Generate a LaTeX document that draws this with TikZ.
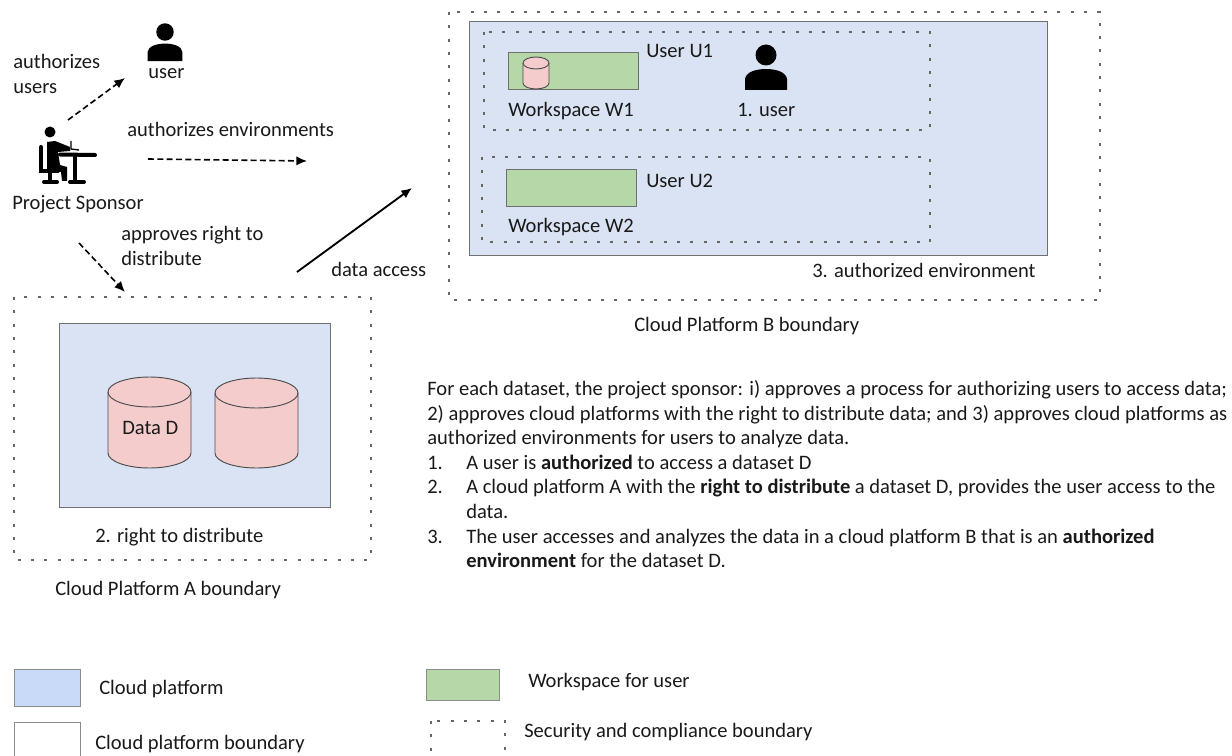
\documentclass[tikz,border=0pt]{standalone}
\usepackage{fontspec}
\setmainfont{Carlito}
\usepackage{tikz}
\usepackage{xcolor}
\usetikzlibrary{arrows.meta}
\definecolor{platformblue}{HTML}{DAE3F3}
\definecolor{legendblue}{HTML}{C9DAF8}
\definecolor{wsgreen}{HTML}{B6D7A8}
\definecolor{dbpink}{HTML}{F4CCCC}
\definecolor{edgegrey}{HTML}{707070}
\definecolor{dotgrey}{HTML}{666666}
\tikzset{
  txt/.style={anchor=base west,inner sep=0pt,yshift=-1.2pt,font=\fontsize{15.4pt}{18pt}\selectfont,text=black!90},
  cloudbox/.style={draw=edgegrey,line width=0.7pt,fill=platformblue},
  wsbox/.style={draw=edgegrey,line width=0.7pt,fill=wsgreen},
  legbox/.style={draw=edgegrey!80,line width=0.7pt},
  secbox/.style={draw=dotgrey,line width=2.2pt,dash pattern=on 2.2pt off 7.8pt},
  authline/.style={-{Latex[length=8pt,width=7pt]},line width=1.2pt,dash pattern=on 4.5pt off 2.5pt},
  accline/.style={-{Latex[length=8pt,width=7pt]},line width=1.4pt},
  dbcan/.style={draw=black!70,line width=0.7pt,fill=dbpink},
  deskpart/.style={line width=3pt,line cap=round}
}
% left, right, top, bottom, half height of the lid
\newcommand{\datacan}[5]{
  \pgfmathsetmacro{\cxx}{(#1+#2)/2}
  \pgfmathsetmacro{\kxx}{0.55*(#2-#1)/2}
  \draw[dbcan] (#1,#3+#5) -- (#1,#4-#5)
    .. controls (#1,{#4-0.45*#5}) and (\cxx-\kxx,#4) .. (\cxx,#4)
    .. controls (\cxx+\kxx,#4) and (#2,{#4-0.45*#5}) .. (#2,#4-#5)
    -- (#2,#3+#5)
    .. controls (#2,{#3+0.45*#5}) and (\cxx+\kxx,#3) .. (\cxx,#3)
    .. controls (\cxx-\kxx,#3) and (#1,{#3+0.45*#5}) .. (#1,#3+#5) -- cycle;
  \draw[dbcan,fill=none] (#1,#3+#5)
    .. controls (#1,{#3+1.55*#5}) and (\cxx-\kxx,#3+2*#5) .. (\cxx,#3+2*#5)
    .. controls (\cxx+\kxx,#3+2*#5) and (#2,{#3+1.55*#5}) .. (#2,#3+#5);
}
% head centre x, y, unit
\newcommand{\usericon}[3]{
  \fill (#1,#2) circle[radius=#3*10.5];
  \fill ({#1-#3*21},{#2+#3*35}) -- ({#1-#3*21},{#2+#3*24})
    .. controls ({#1-#3*20},{#2+#3*17}) and ({#1-#3*10},{#2+#3*14}) .. (#1,{#2+#3*14})
    .. controls ({#1+#3*10},{#2+#3*14}) and ({#1+#3*20},{#2+#3*17}) .. ({#1+#3*21},{#2+#3*24})
    -- ({#1+#3*21},{#2+#3*35}) -- cycle;
}
\begin{document}
\begin{tikzpicture}[x=0.75pt,y=-0.75pt]
  \useasboundingbox (0,0) rectangle (1232,756);
  % cloud platform B
  \draw[secbox] (449,12) rectangle (1100,300);
  \draw[cloudbox] (469,21) rectangle (1047,255);
  \draw[secbox] (484,32) rectangle (930,130);
  \draw[secbox] (482,157) rectangle (930,242);
  \draw[wsbox] (508,52) rectangle (638,89);
  \draw[wsbox] (506,169) rectangle (636,206);
  \datacan{523}{549}{57}{89}{6}
  \node[txt] (uone) at (646,56) {User U1};
  \node[txt] (utwo) at (646,186) {User U2};
  \node[txt] (wone) at (508,115) {Workspace W1};
  \node[txt] (wtwo) at (508,231) {Workspace W2};
  \usericon{766}{55}{1}
  \node[txt] (uicon) at (737,115) {1. user};
  \node[txt] (authenv) at (812,276) {3. authorized environment};
  \node[txt] (bbound) at (634,330) {Cloud Platform B boundary};
  % cloud platform A
  \draw[secbox] (14,297) rectangle (371,560);
  \draw[cloudbox] (59,323) rectangle (330,507);
  \datacan{108}{191}{377}{468}{15}
  \datacan{215}{298}{378}{468}{15}
  \node[txt] (datad) at (122,433) {Data D};
  \node[txt] (rightd) at (95,541) {2. right to distribute};
  \node[txt] (abound) at (55,594) {Cloud Platform A boundary};
  % sponsor
  \usericon{165}{32}{0.83}
  \node[txt] (user) at (148,77) {user};
  \node[txt] (authu) at (13,67) {authorizes};
  \node[txt] (authv) at (13,92) {users};
  \node[txt] (authe) at (127,135) {authorizes environments};
  \node[txt] (spons) at (12,208) {Project Sponsor};
  \node[txt] (appr) at (121,239) {approves right to};
  \node[txt] (apprb) at (121,264) {distribute};
  \node[txt] (dacc) at (331,275) {data access};
  % desk figure
  \fill (50,132) circle[radius=5.5];
  \fill (47,142) -- (55,141) -- (70,147) -- (70,151) -- (58,152) -- (60,165) -- (67,167)
    -- (67,181) -- (62,181) -- (61,172) -- (47,170) -- cycle;
  \draw[deskpart] (41,147) -- (41,171) -- (58,171);
  \draw[deskpart] (50,171) -- (50,181);
  \draw[deskpart] (44,182) -- (57,182);
  \draw[deskpart] (60,154.5) -- (95,155);
  \draw[deskpart] (75,155) -- (75,181);
  \draw[deskpart] (70,182) -- (84,182);
  \draw[line width=1pt] (71,141) -- (71,149) -- (79,150);
  % connectors
  \coordinate (aua) at (68,120); \coordinate (aub) at (125,78);
  \coordinate (aea) at (148,159); \coordinate (aeb) at (307,161);
  \coordinate (apa) at (79,243); \coordinate (apb) at (125,292);
  \coordinate (daa) at (297,272); \coordinate (dab) at (412,188);
  \draw[authline] (aua) -- (aub);
  \draw[authline] (aea) -- (aeb);
  \draw[authline] (apa) -- (apb);
  \draw[accline] (daa) -- (dab);
  % text block
  \node[txt] (para) at (427,394) {For each dataset, the project sponsor: i) approves a process for authorizing users to access data;};
  \node[txt] (parb) at (427,419) {2) approves cloud platforms with the right to distribute data; and 3) approves cloud platforms as};
  \node[txt] (parc) at (427,443) {authorized environments for users to analyze data.};
  \node[txt] (numa) at (427,468) {1.};
  \node[txt] (lia) at (466,468) {A user is \textbf{authorized} to access a dataset D};
  \node[txt] (numb) at (427,492) {2.};
  \node[txt] (lib) at (466,492) {A cloud platform A with the \textbf{right to distribute} a dataset D, provides the user access to the};
  \node[txt] (libb) at (466,517) {data.};
  \node[txt] (numc) at (427,542) {3.};
  \node[txt] (lic) at (466,542) {The user accesses and analyzes the data in a cloud platform B that is an \textbf{authorized}};
  \node[txt] (licb) at (466,566) {\textbf{environment} for the dataset D.};
  % legend
  \draw[legbox,fill=legendblue] (14,669) rectangle (80,706);
  \draw[legbox] (14,722) rectangle (80,760);
  \draw[legbox,fill=wsgreen] (426,669) rectangle (499,700);
  \draw[secbox] (431,721) rectangle (505,765);
  \node[txt] (lega) at (99,693) {Cloud platform};
  \node[txt] (legb) at (95,748) {Cloud platform boundary};
  \node[txt] (legc) at (528,686) {Workspace for user};
  \node[txt] (legd) at (524,736) {Security and compliance boundary};
\end{tikzpicture}
\end{document}
